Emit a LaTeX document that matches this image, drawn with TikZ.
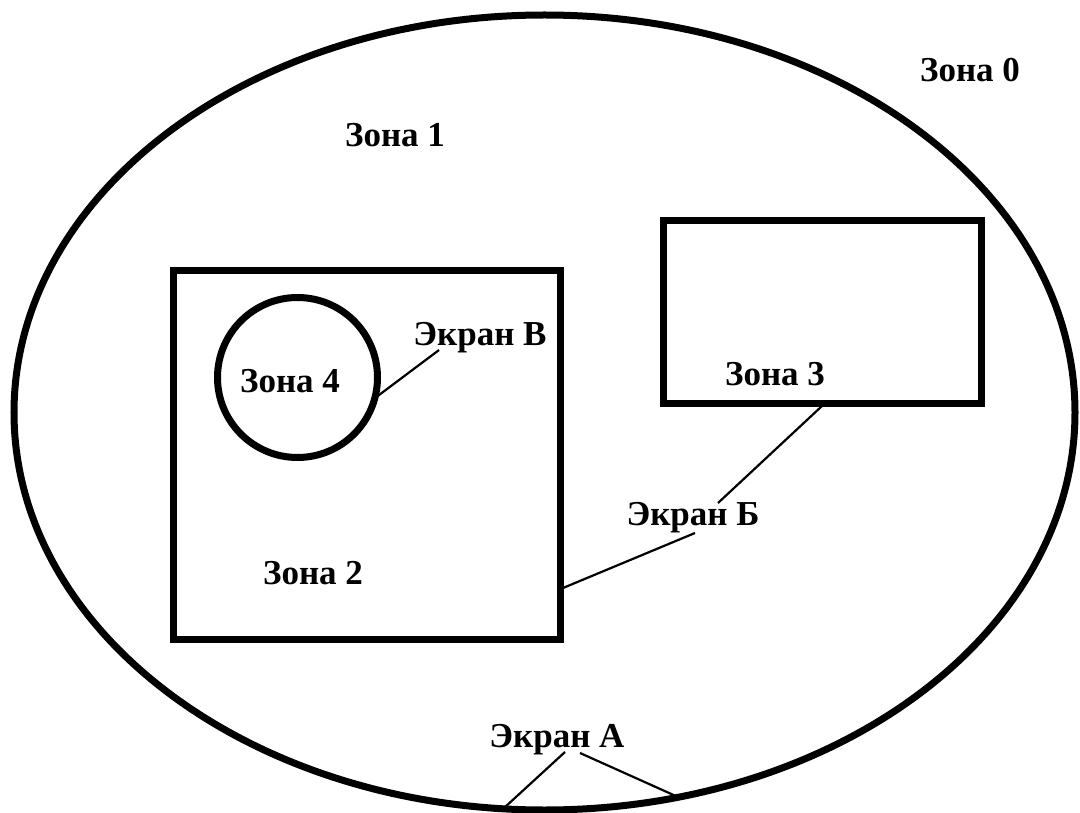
\documentclass[tikz,border=0pt]{standalone}
\usepackage{fontspec}
\setmainfont{Liberation Serif}
\usetikzlibrary{shapes.geometric}
\begin{document}
\begin{tikzpicture}[x=1pt,y=-1pt,
  zone/.style={draw,line width=7pt,inner sep=0pt,outer sep=0pt},
  lbl/.style={anchor=base,inner sep=0pt,font=\fontsize{35}{40}\selectfont\bfseries},
  lead/.style={line width=2.2pt}]
\useasboundingbox (0,0) rectangle (1080,813);
\node[zone,ellipse,minimum width=1061pt,minimum height=795pt] (z0) at (544.5,412.5) {};
\node[zone,rectangle,minimum width=387pt,minimum height=368.5pt] (z2) at (366.5,454.75) {};
\node[zone,rectangle,minimum width=317.5pt,minimum height=183pt] (z3) at (822.25,312) {};
\node[zone,circle,minimum size=160pt] (z4) at (297.5,377.5) {};
% labels
\node[lbl] (t0) at (970,82) {Зона 0};
\node[lbl] (t1) at (395,147) {Зона 1};
\node[lbl] (t4) at (290,392) {Зона 4};
\node[lbl] (t3) at (775,385) {Зона 3};
\node[lbl] (t2) at (313,584) {Зона 2};
\node[lbl] (sv) at (480,345) {Экран В};
\node[lbl] (sb) at (693,525) {Экран Б};
\node[lbl] (sa) at (557,747) {Экран А};
% connector ends
\coordinate (svE) at (439,350);
\coordinate (sbU) at (718,503);
\coordinate (sbL) at (695,533);
\coordinate (saL) at (565,752);
\coordinate (saR) at (580,753);
\coordinate (z3p) at (822,406);
\coordinate (z2p) at (563,588);
\coordinate (z0l) at (504,808);
\coordinate (z0r) at (678,797);
% connectors
\draw[lead] (z4.-15) -- (svE);
\draw[lead] (z3p) -- (sbU);
\draw[lead] (sbL) -- (z2p);
\draw[lead] (saL) -- (z0l);
\draw[lead] (saR) -- (z0r);
\end{tikzpicture}
\end{document}
